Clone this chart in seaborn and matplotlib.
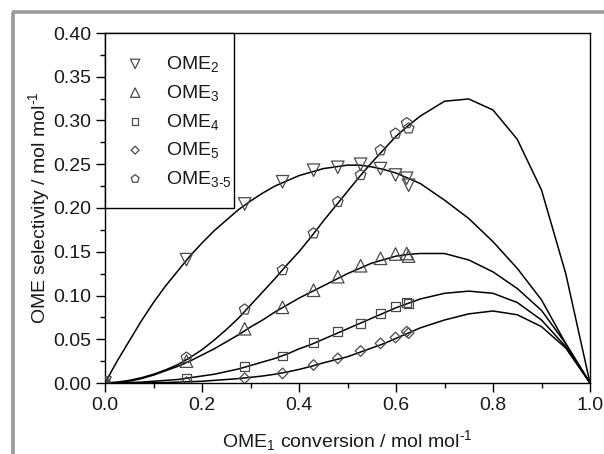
import matplotlib
matplotlib.use("Agg")
import matplotlib.pyplot as plt
from matplotlib.lines import Line2D
from matplotlib.patches import Rectangle
from matplotlib.ticker import MultipleLocator
import seaborn as sns
import pandas as pd

# ---------------- data ----------------
# measured points (OME1 conversion)
conv_exp = [0.0, 0.168, 0.288, 0.366, 0.430, 0.480, 0.527, 0.568, 0.599, 0.622, 0.626]
ome2_exp = [0.0, 0.141, 0.2046, 0.230, 0.2432, 0.2465, 0.250, 0.245, 0.2377, 0.234, 0.226]
ome3_exp = [0.0, 0.025, 0.062, 0.0865, 0.106, 0.1215, 0.134, 0.1425, 0.1474, 0.148, 0.145]
ome4_exp = [0.0, 0.005, 0.0187, 0.031, 0.046, 0.0587, 0.068, 0.0796, 0.0872, 0.0922, 0.091]
ome5_exp = [0.0, 0.001, 0.0054, 0.011, 0.0206, 0.0282, 0.0366, 0.0453, 0.052, 0.0587, 0.057]
ome35_exp = [0.0, 0.029, 0.084, 0.129, 0.171, 0.207, 0.2377, 0.266, 0.285, 0.297, 0.291]

# model curves
conv_mod = [0.0, 0.025, 0.05, 0.075, 0.10, 0.125, 0.15, 0.175, 0.20, 0.225, 0.25,
            0.275, 0.30, 0.325, 0.35, 0.375, 0.40, 0.425, 0.45, 0.475, 0.50,
            0.525, 0.55, 0.575, 0.60, 0.625, 0.65,
            0.70, 0.75, 0.80, 0.85, 0.90, 0.95, 1.0]
ome2_mod = [0.0, 0.025, 0.048, 0.071, 0.092, 0.111, 0.128, 0.145, 0.160, 0.174, 0.186,
            0.198, 0.208, 0.217, 0.225, 0.231, 0.237, 0.241, 0.245, 0.247, 0.249,
            0.249, 0.247, 0.244, 0.240, 0.234, 0.228,
            0.209, 0.188, 0.1615, 0.131, 0.095, 0.045, 0.0]
ome3_mod = [0.0, 0.0005, 0.002, 0.005, 0.009, 0.014, 0.019, 0.025, 0.032, 0.039, 0.047,
            0.055, 0.064, 0.072, 0.081, 0.089, 0.097, 0.104, 0.111, 0.118, 0.125,
            0.131, 0.137, 0.141, 0.145, 0.147, 0.148,
            0.148, 0.1406, 0.127, 0.108, 0.083, 0.045, 0.0]
ome4_mod = [0.0, 0.0, 0.0005, 0.001, 0.002, 0.003, 0.004, 0.006, 0.008, 0.010, 0.013,
            0.016, 0.020, 0.024, 0.028, 0.033, 0.039, 0.044, 0.050, 0.056, 0.062,
            0.068, 0.074, 0.080, 0.086, 0.091, 0.096,
            0.1025, 0.105, 0.1025, 0.092, 0.072, 0.0415, 0.0]
ome5_mod = [0.0, 0.0, 0.0, 0.0001, 0.0003, 0.0006, 0.001, 0.0015, 0.002, 0.003, 0.004,
            0.005, 0.0065, 0.008, 0.010, 0.0125, 0.0155, 0.019, 0.023, 0.0265, 0.030,
            0.035, 0.040, 0.045, 0.051, 0.057, 0.063,
            0.072, 0.079, 0.0823, 0.078, 0.0644, 0.040, 0.0]
ome35_mod = [0.0, 0.001, 0.003, 0.006, 0.010, 0.015, 0.021, 0.029, 0.038, 0.049, 0.061,
             0.074, 0.089, 0.104, 0.119, 0.135, 0.150, 0.167, 0.185, 0.202, 0.219,
             0.236, 0.252, 0.267, 0.282, 0.294, 0.305,
             0.322, 0.3246, 0.312, 0.2785, 0.2206, 0.125, 0.0]

labels = ["OME$_2$", "OME$_3$", "OME$_4$", "OME$_5$", "OME$_{3\\text{-}5}$"]
exp_series = [ome2_exp, ome3_exp, ome4_exp, ome5_exp, ome35_exp]
mod_series = [ome2_mod, ome3_mod, ome4_mod, ome5_mod, ome35_mod]
markers = ["v", "^", "s", "D", "p"]
msizes = [9.0, 9.0, 6.2, 5.4, 8.0]

# ---------------- style ----------------
sns.set_theme(style="ticks")
plt.rcParams["font.family"] = ["Liberation Sans", "DejaVu Sans"]
plt.rcParams["mathtext.fontset"] = "custom"
plt.rcParams["mathtext.rm"] = "Liberation Sans"
plt.rcParams["mathtext.it"] = "Liberation Sans"
plt.rcParams["mathtext.default"] = "regular"

fs = 14
W, H = 604, 454
fig = plt.figure(figsize=(W / 100, H / 100), dpi=100)
ax = fig.add_axes([105 / W, 1 - 383 / H, 485 / W, 350 / H])

edge = "#4a4a4a"
for lab, ye, ym, mk, ms in zip(labels, exp_series, mod_series, markers, msizes):
    dm = pd.DataFrame({"x": conv_mod, "y": ym})
    sns.lineplot(data=dm, x="x", y="y", ax=ax, color="black", lw=1.1,
                 legend=False, zorder=2)
    de = pd.DataFrame({"x": conv_exp, "y": ye})
    sns.scatterplot(data=de, x="x", y="y", ax=ax, marker=mk, s=ms ** 2,
                    facecolor="none", edgecolor=edge, linewidth=0.9,
                    label=lab, zorder=3)

ax.set_xlim(0, 1.0)
ax.set_ylim(0, 0.40)
ax.xaxis.set_major_locator(MultipleLocator(0.2))
ax.xaxis.set_minor_locator(MultipleLocator(0.1))
ax.yaxis.set_major_locator(MultipleLocator(0.05))
ax.yaxis.set_minor_locator(MultipleLocator(0.025))
ax.set_xticklabels([f"{v:.1f}" for v in ax.get_xticks()])
ax.set_yticklabels([f"{v:.2f}" for v in ax.get_yticks()])

ax.tick_params(axis="both", which="major", direction="out", length=6.5, width=1,
               labelsize=fs, color="black", labelcolor="#1a1a1a", pad=3.5)
ax.tick_params(axis="both", which="minor", direction="out", length=3.6, width=1,
               color="black")
for sp in ax.spines.values():
    sp.set_visible(True)
    sp.set_linewidth(1.0)
    sp.set_color("black")

ax.set_xlabel("OME$_1$ conversion / mol mol$^{\\text{-1}}$", fontsize=fs,
              color="#1a1a1a", labelpad=10)
ax.set_ylabel("OME selectivity / mol mol$^{\\text{-1}}$", fontsize=fs,
              color="#1a1a1a", labelpad=1)

# legend box (frame drawn separately to match the asymmetric padding)
def ax_x(px):
    return (px - 105) / 485

def ax_y(py):
    return (383 - py) / 350

ax.add_patch(Rectangle((0, ax_y(208)), ax_x(234), 1 - ax_y(208), transform=ax.transAxes,
                       facecolor="white", edgecolor="black", lw=1.0, zorder=4,
                       clip_on=False))
leg = ax.legend(loc="upper left", bbox_to_anchor=(ax_x(122), ax_y(54)),
                borderaxespad=0, frameon=False, fontsize=fs, markerscale=0.75,
                labelspacing=0.45, handlelength=1.35, handletextpad=0.93,
                borderpad=0)
leg.set_zorder(5)
for t in leg.get_texts():
    t.set_color("#1a1a1a")

# gray frame of the original figure
fig.add_artist(Line2D([13 / W, 13 / W], [0, 1 - 12 / H], transform=fig.transFigure,
                      color="#9a9a9a", lw=2.6, solid_capstyle="butt"))
fig.add_artist(Line2D([13 / W - 0.002, 1], [1 - 12 / H, 1 - 12 / H],
                      transform=fig.transFigure, color="#9a9a9a", lw=2.6,
                      solid_capstyle="butt"))

fig.savefig("out.png", dpi=100)
